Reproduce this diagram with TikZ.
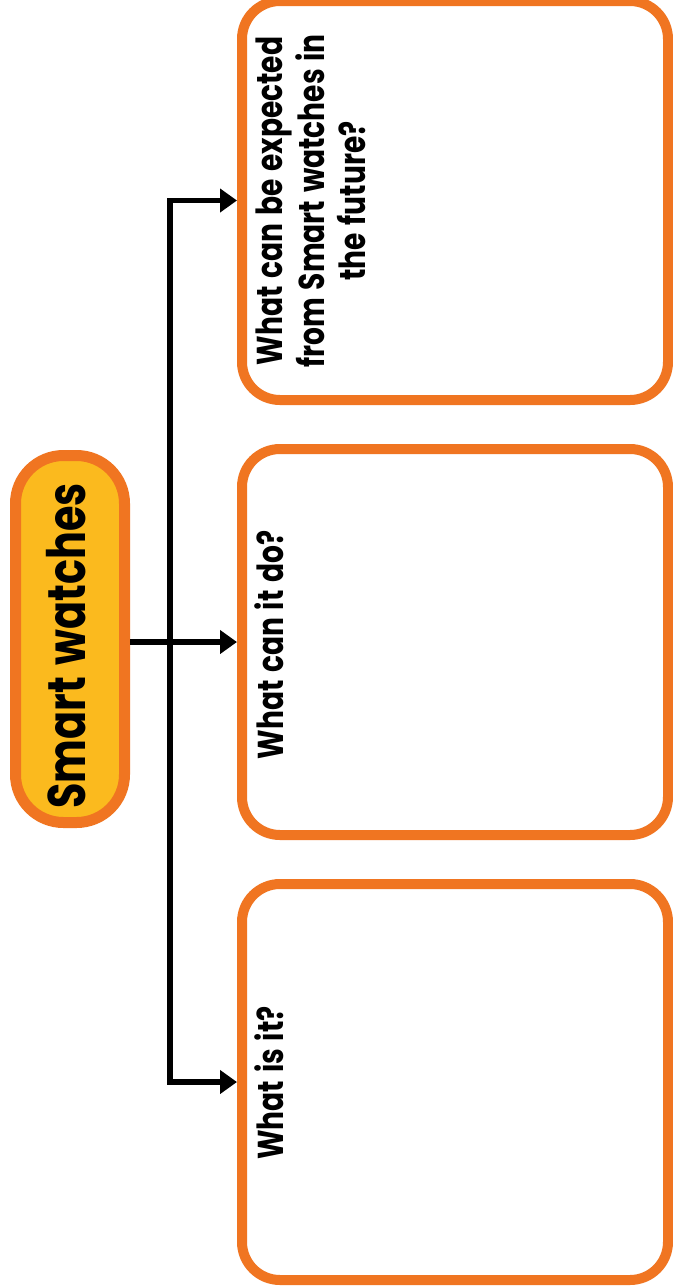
\documentclass[tikz,border=0pt]{standalone}
\usepackage{fontspec}
\newfontfamily\popfont{Poppins}[FakeStretch=0.78,WordSpace=1.3]
\usetikzlibrary{arrows.meta}
\definecolor{orng}{RGB}{240,117,33}
\definecolor{yel}{RGB}{251,186,30}
\begin{document}
\begin{tikzpicture}[x=0.5pt,y=-0.5pt,
  box/.style={draw=orng, line width=5pt, rounded corners=19pt, fill=white, minimum width=213pt, inner sep=0pt},
  hub/.style={draw=orng, fill=yel, line width=5.5pt, rounded corners=24pt, minimum width=54.5pt, minimum height=183.5pt, inner sep=0pt},
  lbl/.style={rotate=90, font=\popfont\bfseries\fontsize{18}{20.75}\selectfont, align=center, inner sep=0pt, text=black},
  link/.style={line width=2.8pt},
  tip/.tip={Triangle[length=8.5pt,width=11.5pt]}]
\useasboundingbox (0,0) rectangle (673,1287);
\fill[white] (0,0) rectangle (673,1287);
% boxes
\node[box, minimum height=199.5pt] (b1) at (455,200.5) {};
\node[box, minimum height=193pt] (b2) at (455,642) {};
\node[box, minimum height=198pt] (b3) at (455,1082) {};
\node[hub] (sw) at (70,639) {};
% connectors
\coordinate (tr) at (170,642);
\draw[link, -tip] (sw.east |- b2.west) -- (b2.west);
\draw[link, tip-tip] (b1.west) -- (b1.west -| tr) -- (b3.west -| tr) -- (b3.west);
% texts
\node[lbl, font=\popfont\bfseries\fontsize{26.5}{30}\selectfont] (t0) at (66,646) {Smart watches};
\node[lbl] (t1) at (311,201) {What can be expected\\from Smart watches in\\the future?};
\node[lbl] (t2) at (269,645) {What can it do?};
\node[lbl] (t3) at (269,1083) {What is it?};
\end{tikzpicture}
\end{document}
